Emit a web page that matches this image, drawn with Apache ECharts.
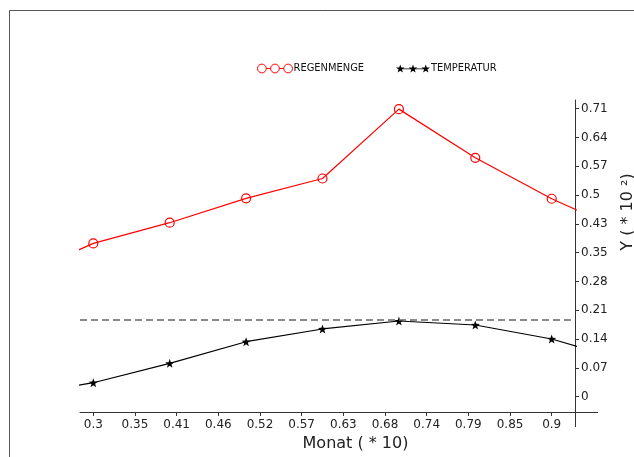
<!DOCTYPE html>
<html>
<head>
<meta charset="utf-8">
<script src="https://cdn.jsdelivr.net/npm/echarts@6.0.0/dist/echarts.min.js"></script>
<style>
  html, body { margin: 0; padding: 0; background: #fff; }
  #chart { width: 634px; height: 457px; }
</style>
</head>
<body>
<div id="chart"></div>
<script>
// months (* 10), incl. the points just outside the visible range
const months = [0.2, 0.3, 0.4, 0.5, 0.6, 0.7, 0.8, 0.9, 1.0];
const regenmenge = [0.294, 0.378, 0.429, 0.489, 0.538, 0.709, 0.589, 0.488, 0.403];
const temperatur = [0.002, 0.0345, 0.0823, 0.1356, 0.167, 0.1866, 0.1768, 0.1423, 0.088];
const refLine = [0.187];

const xTickVals = [0.3, 0.3545, 0.4091, 0.4636, 0.5182, 0.5727, 0.6273, 0.6818, 0.7364, 0.7909, 0.8455, 0.9];
const xTickLabels = ['0.3', '0.35', '0.41', '0.46', '0.52', '0.57', '0.63', '0.68', '0.74', '0.79', '0.85', '0.9'];
const yTickVals = [0, 0.071, 0.142, 0.213, 0.284, 0.355, 0.426, 0.497, 0.568, 0.639, 0.71];
const yTickLabels = ['0', '0.07', '0.14', '0.21', '0.28', '0.35', '0.43', '0.5', '0.57', '0.64', '0.71'];

// plot box
const G = { left: 80, right: 575, top: 100, bottom: 412 };

function lookup(vals, labels, v) {
  let best = 0;
  vals.forEach((t, i) => { if (Math.abs(t - v) < Math.abs(vals[best] - v)) best = i; });
  return labels[best];
}

function starPath(cx, cy, R, r) {
  let s = '';
  for (let i = 0; i < 10; i++) {
    const a = (-90 + 36 * i) * Math.PI / 180;
    const rad = i % 2 ? r : R;
    s += (i ? 'L' : 'M') + (cx + rad * Math.cos(a)).toFixed(2) + ',' + (cy + rad * Math.sin(a)).toFixed(2) + ' ';
  }
  return s + 'Z ';
}

function circlePath(cx, cy, r) {
  return 'M' + (cx - r) + ',' + cy + ' A' + r + ',' + r + ' 0 1,1 ' + (cx + r) + ',' + cy +
    ' A' + r + ',' + r + ' 0 1,1 ' + (cx - r) + ',' + cy + ' ';
}

const starSymbol = 'path://' + starPath(10, 10, 10, 4);
const circIcon = 'path://' + circlePath(4.5, 4.5, 4) + 'M8.5,4.5 L12.5,4.5 ' + circlePath(16.5, 4.5, 4) +
  'M20.5,4.5 L24.5,4.5 ' + circlePath(28.5, 4.5, 4);
const starIcon = 'path://' + starPath(4, 4.2, 4.2, 1.7) + starPath(16, 4.2, 4.2, 1.7) + starPath(28, 4.2, 4.2, 1.7) +
  'M4,3.9 L28,3.9 L28,4.6 L4,4.6 Z';

const chart = echarts.init(document.getElementById('chart'), null, { renderer: 'canvas' });

const axisColor = '#333';
const tickFont = { fontFamily: 'DejaVu Sans', fontSize: 12, color: '#222' };
const legendText = {
  fontFamily: "'Liberation Sans Narrow', 'DejaVu Sans Condensed', sans-serif",
  fontSize: 11, color: '#111', padding: [0, 0, 0, -4]
};

chart.setOption({
  animation: false,
  backgroundColor: '#fff',
  grid: { left: G.left, right: 634 - G.right, top: G.top, bottom: 457 - G.bottom, containLabel: false },
  legend: [
    {
      left: 252, top: 58, itemWidth: 35, itemHeight: 9, selectedMode: false, textStyle: legendText,
      data: [{ name: 'REGENMENGE', icon: circIcon, itemStyle: { color: 'transparent', borderColor: '#ff0000', borderWidth: 1 } }]
    },
    {
      left: 391, top: 58, itemWidth: 34, itemHeight: 9, selectedMode: false, textStyle: legendText,
      data: [{ name: 'TEMPERATUR', icon: starIcon, itemStyle: { color: '#000', borderWidth: 0 } }]
    }
  ],
  xAxis: {
    type: 'value',
    min: 0.2826,
    max: 0.9305,
    name: 'Monat ( * 10)',
    nameLocation: 'middle',
    nameGap: 24,
    nameTextStyle: { fontFamily: 'DejaVu Sans', fontSize: 16, color: '#222', padding: [0, 0, 0, 56] },
    axisLine: { show: true, onZero: false, lineStyle: { color: axisColor, width: 1 } },
    axisTick: { show: true, customValues: xTickVals, length: 4, lineStyle: { color: axisColor } },
    axisLabel: { customValues: xTickVals, margin: 7, formatter: v => lookup(xTickVals, xTickLabels, v), ...tickFont },
    splitLine: { show: false }
  },
  yAxis: {
    type: 'value',
    position: 'right',
    min: -0.0377,
    max: 0.7315,
    axisLine: { show: true, onZero: false, lineStyle: { color: axisColor, width: 1 } },
    axisTick: { show: true, customValues: yTickVals, length: 4, lineStyle: { color: axisColor } },
    axisLabel: { customValues: yTickVals, margin: 6, formatter: v => lookup(yTickVals, yTickLabels, v), ...tickFont },
    splitLine: { show: false }
  },
  graphic: [
    { type: 'rect', silent: true, shape: { x: 9.5, y: 10.5, width: 800, height: 600 }, style: { fill: 'none', stroke: '#555', lineWidth: 1 } },
    { type: 'line', silent: true, shape: { x1: G.right, y1: G.bottom + 0.5, x2: 598, y2: G.bottom + 0.5 }, style: { stroke: axisColor, lineWidth: 1 } },
    { type: 'line', silent: true, shape: { x1: G.right + 0.5, y1: G.bottom, x2: G.right + 0.5, y2: 427 }, style: { stroke: axisColor, lineWidth: 1 } },
    {
      type: 'text', silent: true, x: 628, y: 212, rotation: Math.PI / 2,
      style: { text: 'Y ( * 10 ²)', fontFamily: 'DejaVu Sans', fontSize: 16, fill: '#222', align: 'center', verticalAlign: 'middle' }
    }
  ],
  series: [
    {
      name: 'REGENMENGE',
      type: 'line',
      data: months.map((m, i) => [m, regenmenge[i]]),
      symbol: 'circle',
      symbolSize: 9,
      color: '#ff0000',
      lineStyle: { color: '#ff0000', width: 1.2 },
      itemStyle: { color: 'transparent', borderColor: '#ff0000', borderWidth: 1.2 }
    },
    {
      name: 'TEMPERATUR',
      type: 'line',
      data: months.map((m, i) => [m, temperatur[i]]),
      symbol: starSymbol,
      symbolSize: 9,
      color: '#000',
      lineStyle: { color: '#000', width: 1.2 },
      itemStyle: { color: '#000' },
      markLine: {
        silent: true,
        symbol: 'none',
        label: { show: false },
        lineStyle: { color: '#666', type: [7, 4], width: 1.5 },
        data: refLine.map(v => ({ yAxis: v }))
      }
    }
  ]
});
</script>
</body>
</html>
